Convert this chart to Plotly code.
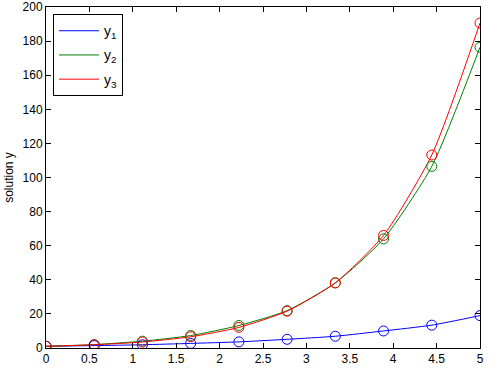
import plotly.graph_objects as go

x = [0, 5/9, 10/9, 15/9, 20/9, 25/9, 30/9, 35/9, 40/9, 5]
y1 = [1, 1.4, 1.9, 2.7, 3.6, 5.1, 6.9, 10.0, 13.4, 19.0]
y2 = [1, 2.0, 4.0, 7.3, 13.2, 21.9, 38.2, 64.0, 106.5, 176.4]
y3 = [1, 1.9, 3.5, 6.6, 12.1, 21.6, 38.2, 66.0, 113.2, 190.6]
names = ["y<sub>1</sub>", "y<sub>2</sub>", "y<sub>3</sub>"]
colors = ["#0000ff", "#008000", "#ff0000"]
series = [y1, y2, y3]

fig = go.Figure()
for i, (ys, nm, c) in enumerate(zip(series, names, colors)):
    fig.add_trace(go.Scatter(x=x, y=ys, mode="lines", name=nm, legendgroup=f"g{i}",
                             line=dict(color=c, width=1, shape="spline", smoothing=0.6)))
for ys, c in zip(series, colors):
    fig.add_trace(go.Scatter(x=x, y=ys, mode="markers", showlegend=False,
                             marker=dict(symbol="circle-open", size=10, color=c,
                                         line=dict(width=1, color=c))))

axis_common = dict(showgrid=False, zeroline=False, ticks="inside", ticklen=5,
                   tickcolor="black", linecolor="black", linewidth=1, mirror="ticks",
                   showline=True, automargin=False,
                   tickfont=dict(family="Liberation Sans, Arial", size=12, color="black"))
fig.update_xaxes(range=[0, 5], dtick=0.5, **axis_common)
fig.update_yaxes(range=[0, 200], dtick=20, title=dict(text="solution y", standoff=6,
                 font=dict(family="Liberation Sans, Arial", size=12, color="black")), **axis_common)

fig.update_layout(width=501, height=372, margin=dict(l=46, r=21, t=7, b=24),
                  plot_bgcolor="white", paper_bgcolor="white",
                  legend=dict(x=0.016, y=0.979, xanchor="left", yanchor="top",
                              bordercolor="black", borderwidth=1, bgcolor="white",
                              tracegroupgap=3, itemwidth=40,
                              font=dict(family="Liberation Sans, Arial", size=14, color="black")))
fig.write_html("out.html")
